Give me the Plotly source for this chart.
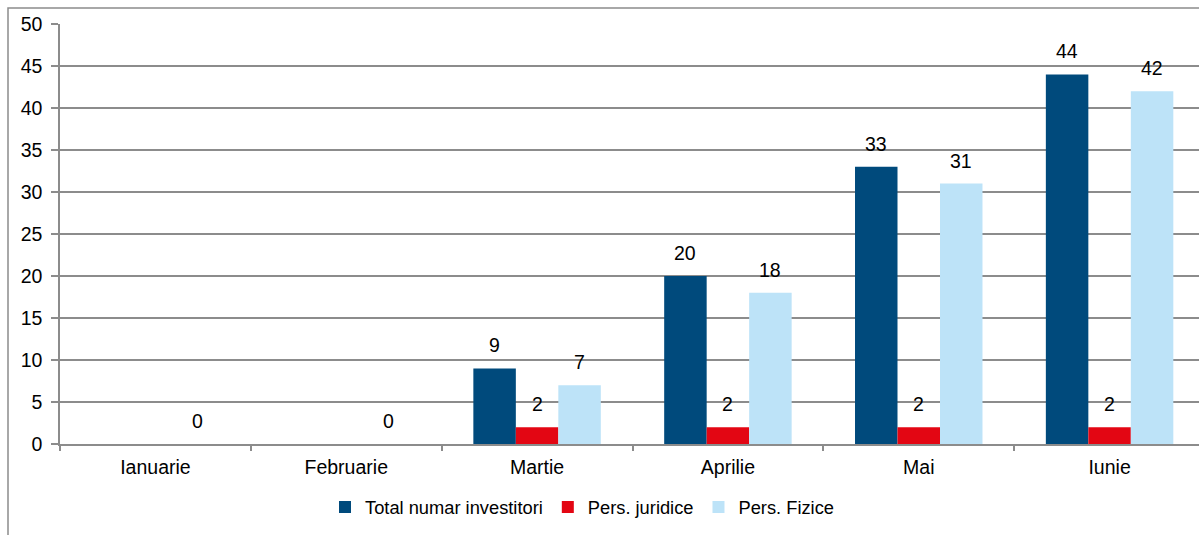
import plotly.graph_objects as go

months = ["Ianuarie", "Februarie", "Martie", "Aprilie", "Mai", "Iunie"]
total = [None, None, 9, 20, 33, 44]
juridice = [None, None, 2, 2, 2, 2]
fizice = [0, 0, 7, 18, 31, 42]
y_ticks = [0, 5, 10, 15, 20, 25, 30, 35, 40, 45, 50]

series = [
    ("Total numar investitori", total, "#004A7C"),
    ("Pers. juridice", juridice, "#E30613"),
    ("Pers. Fizice", fizice, "#BDE3F8"),
]

FONT_FAMILY = "Liberation Sans, Arial, sans-serif"
tick_font = dict(family=FONT_FAMILY, size=19.5, color="#000000")
label_font = dict(family=FONT_FAMILY, size=19.5, color="#000000")
legend_font = dict(family=FONT_FAMILY, size=18.3, color="#000000")
W, H = 1206, 535
ML, MR, MT, MB = 60, 1, 24, 91
BARGAP = 0.332
plot_w = W - ML - MR
cat_w = plot_w / len(months)
bar_w = cat_w * (1 - BARGAP) / len(series)
GRID = "#8c8c8c"

fig = go.Figure()
for name, vals, color in series:
    fig.add_trace(go.Bar(
        x=months, y=vals, name=name,
        marker=dict(color=color, line=dict(width=0)),
        hoverinfo="x+y+name",
    ))

annotations = []
for i, (name, vals, color) in enumerate(series):
    shift = (i - 1) * bar_w
    for m, v in zip(months, vals):
        if v is None:
            continue
        annotations.append(dict(
            x=m, y=v, xref="x", yref="y", text=str(v), showarrow=False,
            xshift=shift, yshift=10, yanchor="bottom", xanchor="center",
            font=label_font,
        ))

fig.update_layout(
    width=W, height=H,
    margin=dict(l=ML, r=MR, t=MT, b=MB, autoexpand=False),
    paper_bgcolor="white", plot_bgcolor="white",
    barmode="group", bargap=BARGAP, bargroupgap=0,
    font=tick_font,
    showlegend=True,
    legend=dict(orientation="h", x=(582 - ML) / plot_w, xanchor="center",
                y=-0.15, yanchor="middle",
                font=legend_font, traceorder="normal", itemwidth=30),
    xaxis=dict(showgrid=False, showline=True, linecolor=GRID, linewidth=1.5,
               ticks="outside", tickson="boundaries", ticklen=5, tickcolor=GRID,
               tickwidth=1.5, tickfont=tick_font, ticklabelstandoff=5),
    yaxis=dict(range=[0, 50], tickvals=y_ticks, showgrid=True, gridcolor=GRID,
               gridwidth=1.5, showline=True, linecolor=GRID, linewidth=1.5,
               ticks="outside", ticklen=7, tickcolor=GRID, tickwidth=1.5,
               tickfont=tick_font, zeroline=False, ticklabelstandoff=5),
    annotations=annotations,
)
fig.add_shape(type="rect", xref="paper", yref="paper",
              x0=(8 - ML) / plot_w, x1=1.02, y0=-0.3, y1=1 + (MT - 8) / (H - MT - MB),
              line=dict(color=GRID, width=1.5), layer="below")

fig.write_html(
    "out.html",
    config={"displayModeBar": False},
    post_script=("document.body.style.margin='0';document.body.style.padding='0';"
                 "document.body.style.overflow='hidden';"
                 "document.documentElement.style.overflow='hidden';"),
)
